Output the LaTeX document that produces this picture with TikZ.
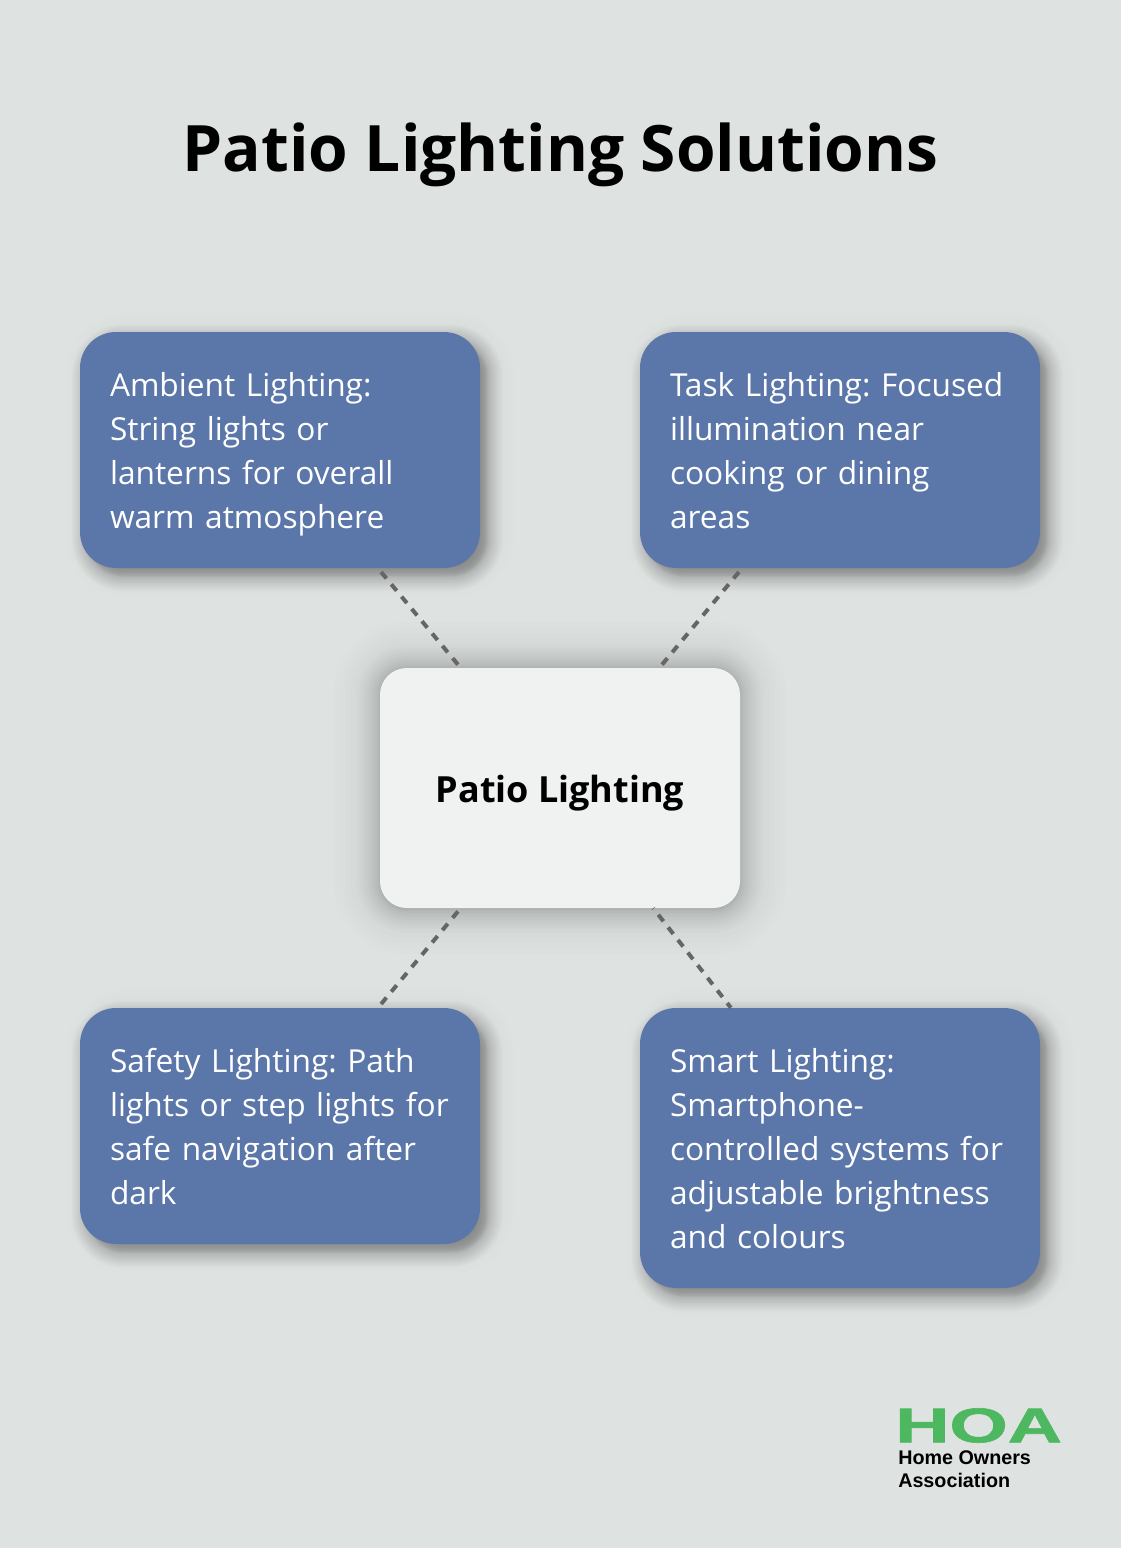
\documentclass[tikz,border=0pt]{standalone}
\usepackage{fontspec}
\usepackage{graphicx}
\setmainfont{Open Sans}
\newfontfamily\logofont{Liberation Sans}
\newfontfamily\hoafont[FakeBold=1.2]{Liberation Sans Bold}
\definecolor{bgc}{HTML}{DEE2E1}
\definecolor{bluec}{HTML}{5B76A9}
\definecolor{centerc}{HTML}{F0F2F1}
\definecolor{linec}{HTML}{666666}
\definecolor{greenc}{HTML}{4DB85F}
% smooth shadow: layers bunch up near the edge, so the tail fades gently
\newcommand{\softshadow}[8]{%
  \foreach \i in {0,...,#7}{%
    \pgfmathsetmacro{\u}{1-2*\i/#7}%
    \pgfmathsetmacro{\e}{#6*\u*sqrt(abs(\u))}%
    \pgfmathsetmacro{\rr}{max(#5+\e,2)*0.75}%
    \fill[black,fill opacity=#8,rounded corners=\rr pt]
      ({#1-\e},{#2-\e}) rectangle ({#3+\e},{#4+\e});
  }%
}
% dark core and faint halo of a blue box
\newcommand{\blueshadow}[4]{%
  \softshadow{#1+10}{#2+5}{#3+10}{#4+5}{36}{24}{20}{0.003}
  \softshadow{#1+7}{#2+8}{#3+7}{#4+8}{36}{15}{20}{0.018}
}
\newcommand{\firstl}{\rule{0pt}{25.5pt}}
\newcommand{\lastl}{\rule[-7.5pt]{0pt}{7.5pt}}
\tikzset{
  x=0.75pt,y=-0.75pt,
  bluebox/.style={fill=bluec,rounded corners=27pt,text=white,minimum width=300pt,
    inner sep=0pt,text width=255pt,align=left,anchor=center,
    font=\fontsize{23.75}{33}\selectfont\frenchspacing},
  centerbox/.style={fill=centerc,rounded corners=20pt,text=black,minimum width=270pt,
    minimum height=180pt,inner sep=0pt,align=center,
    font=\fontsize{27}{33}\selectfont\bfseries},
  linkline/.style={draw=linec,line width=3pt,dash pattern=on 6.25pt off 5.75pt,dash phase=8.36pt},
  linklineb/.style={draw=linec,line width=3pt,dash pattern=on 6.25pt off 5.75pt,dash phase=1.76pt},
  logotext/.style={anchor=west,inner sep=0pt,text=black,align=left,
    font=\logofont\fontsize{14.8}{17.25}\selectfont},
}
\begin{document}
\begin{tikzpicture}
\useasboundingbox (0,0) rectangle (1120,1548);
\fill[bgc] (-3,-3) rectangle (1123,1551);
\node[anchor=center,inner sep=0pt,font=\fontsize{48}{58}\selectfont\bfseries] (title) at (560.5,154.5) {Patio Lighting Solutions};
% soft shadows
\softshadow{380}{668}{740}{908}{27}{46}{24}{0.006}
\softshadow{380}{668}{740}{910}{27}{22}{24}{0.009}
\blueshadow{80}{332}{480}{568}
\blueshadow{640}{332}{1040}{568}
\blueshadow{80}{1008}{480}{1244}
\blueshadow{640}{1008}{1040}{1288}
% nodes
\node[bluebox,minimum height=177pt] (a) at (280,450) {\firstl Ambient Lighting:\\String lights or\\lanterns for overall\\warm atmosphere\lastl};
\node[bluebox,minimum height=177pt] (b) at (840,450) {\firstl Task Lighting: Focused\\illumination near\\cooking or dining\\areas\lastl};
\node[bluebox,minimum height=177pt] (d) at (280,1126) {\firstl Safety Lighting: Path\\lights or step lights for\\safe navigation after\\dark\lastl};
\node[bluebox,minimum height=210pt] (e) at (840,1148) {\firstl Smart Lighting:\\Smartphone-\\controlled systems for\\adjustable brightness\\and colours\lastl};
\node[centerbox] (c) at (560,788) {\rule{0pt}{28pt}Patio Lighting};
% connectors
\draw[linkline] (a) -- (c);
\draw[linkline] (b) -- (c);
\draw[linkline] (d) -- (c);
\draw[linklineb] (e) -- (c);
% logo
\node[anchor=south west,inner sep=0pt,text=greenc] (hoa) at (895,1443) {\resizebox{125pt}{25.5pt}{\hoafont HOA}};
\node[logotext] (hoatext) at (898,1469.5) {\textbf{Home Owners}\\\textbf{Association}};
\end{tikzpicture}
\end{document}
